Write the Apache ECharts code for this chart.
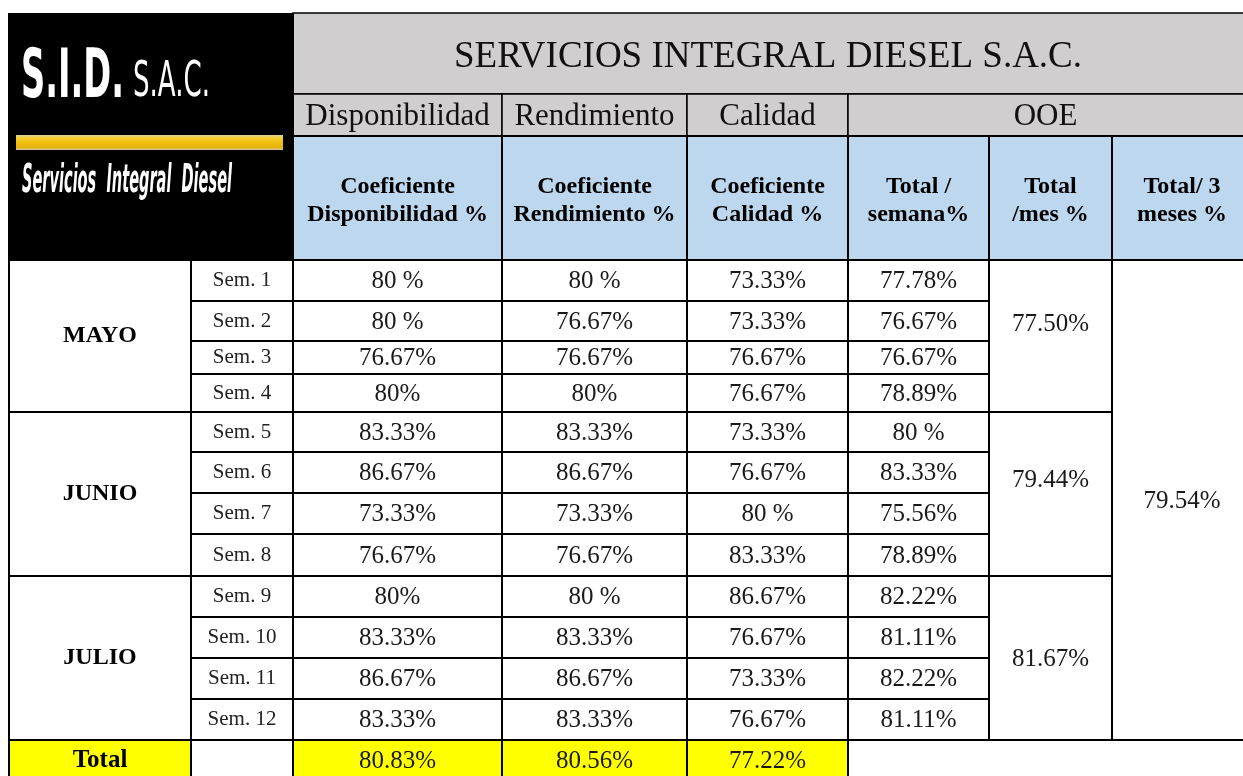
<!DOCTYPE html>
<html>
<head>
<meta charset="utf-8">
<script src="https://cdn.jsdelivr.net/npm/echarts@6/dist/echarts.min.js"></script>
<style>
html,body{margin:0;padding:0;background:#fff;}
#chart{width:1243px;height:776px;}
</style>
</head>
<body>
<div id="chart"></div>
<script>
// ---------------- DATA ----------------
const title = 'SERVICIOS INTEGRAL DIESEL S.A.C.';
const groupHeaders = ['Disponibilidad', 'Rendimiento', 'Calidad', 'OOE'];
const columnHeaders = ['Coeficiente\nDisponibilidad %', 'Coeficiente\nRendimiento %', 'Coeficiente\nCalidad %',
                       'Total /\nsemana%', 'Total\n/mes %', 'Total/ 3\nmeses %'];
const months = ['MAYO', 'JUNIO', 'JULIO'];
const weeks = ['Sem. 1', 'Sem. 2', 'Sem. 3', 'Sem. 4', 'Sem. 5', 'Sem. 6',
               'Sem. 7', 'Sem. 8', 'Sem. 9', 'Sem. 10', 'Sem. 11', 'Sem. 12'];
const disponibilidad = ['80 %', '80 %', '76.67%', '80%', '83.33%', '86.67%',
                        '73.33%', '76.67%', '80%', '83.33%', '86.67%', '83.33%'];
const rendimiento = ['80 %', '76.67%', '76.67%', '80%', '83.33%', '86.67%',
                     '73.33%', '76.67%', '80 %', '83.33%', '86.67%', '83.33%'];
const calidad = ['73.33%', '73.33%', '76.67%', '76.67%', '73.33%', '76.67%',
                 '80 %', '83.33%', '86.67%', '76.67%', '73.33%', '76.67%'];
const totalSemana = ['77.78%', '76.67%', '76.67%', '78.89%', '80 %', '83.33%',
                     '75.56%', '78.89%', '82.22%', '81.11%', '82.22%', '81.11%'];
const totalMes = ['77.50%', '79.44%', '81.67%'];
const total3Meses = ['79.54%'];
const totalLabel = 'Total';
const totals = ['80.83%', '80.56%', '77.22%'];
const logoMain = 'S.I.D.';
const logoSuffix = 'S.A.C.';
const logoTagline = 'Servicios  Integral  Diesel';

// ---------------- LAYOUT ----------------
const W = 1243, H = 776;
const COLS = [9, 191, 293, 502, 687, 848, 989, 1112, 1252];
const HEAD_Y = [13, 94, 136, 260];
const ROWS = [260, 301, 341, 374, 412, 452, 493, 534, 576, 617, 658, 699, 740, 782];
const WEEKS_PER_MONTH = 4;
const MONTH_TOTAL_DY = [-13, -15, 0];

const SERIF = '"Liberation Serif", "Times New Roman", serif';
const STYLES = {
  title:   {fill: '#D0CECE', stroke: '#000', lw: 1.5, font: 'normal 37px ' + SERIF, color: '#111', dy: 4},
  group:   {fill: '#D0CECE', stroke: '#000', lw: 1.5, font: 'normal 31px ' + SERIF, color: '#111', dy: 2},
  colhead: {fill: '#BDD7EE', stroke: '#000', lw: 2, font: 'bold 24px ' + SERIF, color: '#000', lh: 28, dy: 3},
  month:   {fill: '#FFFFFF', stroke: '#000', lw: 2, font: 'bold 24px ' + SERIF, color: '#000', dy: 0},
  week:    {fill: '#FFFFFF', stroke: '#000', lw: 2, font: 'normal 21px ' + SERIF, color: '#222', dy: 0},
  value:   {fill: '#FFFFFF', stroke: '#000', lw: 2, font: 'normal 25px ' + SERIF, color: '#1a1a1a', dy: 1},
  totLbl:  {fill: '#FFFF00', stroke: '#000', lw: 2, font: 'bold 25px ' + SERIF, color: '#000', dy: 0},
  totVal:  {fill: '#FFFF00', stroke: '#000', lw: 2, font: 'normal 25px ' + SERIF, color: '#1a1a1a', dy: 0},
  blank:   {fill: '#FFFFFF', stroke: '#000', lw: 2, dy: 0}
};

// ---------------- BUILD CELLS ----------------
const cells = [];
function addCell(c0, c1, y0, y1, text, kind, dy) {
  cells.push({x0: COLS[c0], x1: COLS[c1], y0: y0, y1: y1, text: text, kind: kind, dy: dy || 0});
}
addCell(2, 8, HEAD_Y[0], HEAD_Y[1], title, 'title');
const groupSpans = [[2, 3], [3, 4], [4, 5], [5, 8]];
groupHeaders.forEach((g, i) => addCell(groupSpans[i][0], groupSpans[i][1], HEAD_Y[1], HEAD_Y[2], g, 'group'));
columnHeaders.forEach((h, i) => addCell(2 + i, 3 + i, HEAD_Y[2], HEAD_Y[3], h, 'colhead'));

months.forEach((m, i) => {
  const r0 = i * WEEKS_PER_MONTH, r1 = r0 + WEEKS_PER_MONTH;
  addCell(0, 1, ROWS[r0], ROWS[r1], m, 'month');
});
weeks.forEach((w, r) => {
  addCell(1, 2, ROWS[r], ROWS[r + 1], w, 'week');
  addCell(2, 3, ROWS[r], ROWS[r + 1], disponibilidad[r], 'value');
  addCell(3, 4, ROWS[r], ROWS[r + 1], rendimiento[r], 'value');
  addCell(4, 5, ROWS[r], ROWS[r + 1], calidad[r], 'value');
  addCell(5, 6, ROWS[r], ROWS[r + 1], totalSemana[r], 'value');
});
totalMes.forEach((t, i) => {
  const r0 = i * WEEKS_PER_MONTH, r1 = r0 + WEEKS_PER_MONTH;
  addCell(6, 7, ROWS[r0], ROWS[r1], t, 'value', MONTH_TOTAL_DY[i]);
});
addCell(7, 8, ROWS[0], ROWS[weeks.length], total3Meses[0], 'value');
const lastR = weeks.length;
addCell(0, 1, ROWS[lastR], ROWS[lastR + 1], totalLabel, 'totLbl');
addCell(1, 2, ROWS[lastR], ROWS[lastR + 1], '', 'blank');
totals.forEach((t, i) => addCell(2 + i, 3 + i, ROWS[lastR], ROWS[lastR + 1], t, 'totVal'));

// ---------------- LOGO (decoration) ----------------
const mctx = document.createElement('canvas').getContext('2d');
function fitScale(text, font, target) {
  mctx.font = font;
  const w = mctx.measureText(text).width;
  return w > 0 ? target / w : 1;
}
const FONT_MAIN = 'bold 68px "DejaVu Sans Condensed", "DejaVu Sans", sans-serif';
const FONT_SUFFIX = 'normal 50px "Liberation Sans Narrow", "DejaVu Sans Condensed", "DejaVu Sans", sans-serif';
const FONT_TAG = 'italic bold 39px "Liberation Sans Narrow", "DejaVu Sans Condensed", "DejaVu Sans", sans-serif';
const sMain = fitScale(logoMain, FONT_MAIN, 103);
const sSuffix = fitScale(logoSuffix, FONT_SUFFIX, 77);
const sTag = fitScale(logoTagline, FONT_TAG, 210);

const graphic = [
  {type: 'rect', shape: {x: 8, y: 13, width: 286, height: 247}, style: {fill: '#000'}, z: 10},
  {type: 'rect', shape: {x: 16, y: 135, width: 267, height: 15},
   style: {fill: {type: 'linear', x: 0, y: 0, x2: 0, y2: 1, colorStops: [
     {offset: 0, color: '#d9cfa8'}, {offset: 0.18, color: '#f6d23a'}, {offset: 0.5, color: '#f2be10'},
     {offset: 0.82, color: '#e5b20a'}, {offset: 1, color: '#cfc6a0'}]}}, z: 11},
  {type: 'text', x: 21, y: 79, scaleX: sMain, z: 12,
   style: {text: logoMain, font: FONT_MAIN, fill: '#fff', align: 'left', verticalAlign: 'middle'}},
  {type: 'text', x: 133, y: 83, scaleX: sSuffix, z: 12,
   style: {text: logoSuffix, font: FONT_SUFFIX, fill: '#fff', align: 'left', verticalAlign: 'middle'}},
  {type: 'text', x: 22, y: 182, scaleX: sTag, z: 12,
   style: {text: logoTagline, font: FONT_TAG, fill: '#fff', align: 'left', verticalAlign: 'middle'}}
];

// ---------------- CHART ----------------
const chart = echarts.init(document.getElementById('chart'), null, {renderer: 'canvas'});
chart.setOption({
  animation: false,
  backgroundColor: '#fff',
  grid: {left: 0, right: 0, top: 0, bottom: 0},
  xAxis: {type: 'value', min: 0, max: W, show: false},
  yAxis: {type: 'value', min: 0, max: H, inverse: true, show: false},
  graphic: graphic,
  series: [{
    type: 'custom',
    clip: false,
    encode: {x: [0, 2], y: [1, 3]},
    data: cells.map(c => [c.x0, c.y0, c.x1, c.y1]),
    renderItem: function (params, api) {
      const c = cells[params.dataIndex];
      const p0 = api.coord([api.value(0), api.value(1)]);
      const p1 = api.coord([api.value(2), api.value(3)]);
      const x = p0[0], y = p0[1], w = p1[0] - p0[0], h = p1[1] - p0[1];
      const s = STYLES[c.kind];
      const children = [{type: 'rect', shape: {x: x, y: y, width: w, height: h},
                         style: {fill: s.fill, stroke: s.stroke, lineWidth: s.lw}}];
      if (c.text) {
        const cx = c.kind === 'title' || c.kind === 'group' ? x + Math.min(w, W - x) / 2 : x + w / 2;
        children.push({type: 'text', style: {x: cx, y: y + h / 2 + c.dy + s.dy, text: c.text,
          align: 'center', verticalAlign: 'middle', font: s.font, fill: s.color, lineHeight: s.lh}});
      }
      return {type: 'group', children: children};
    }
  }]
});
</script>
</body>
</html>
